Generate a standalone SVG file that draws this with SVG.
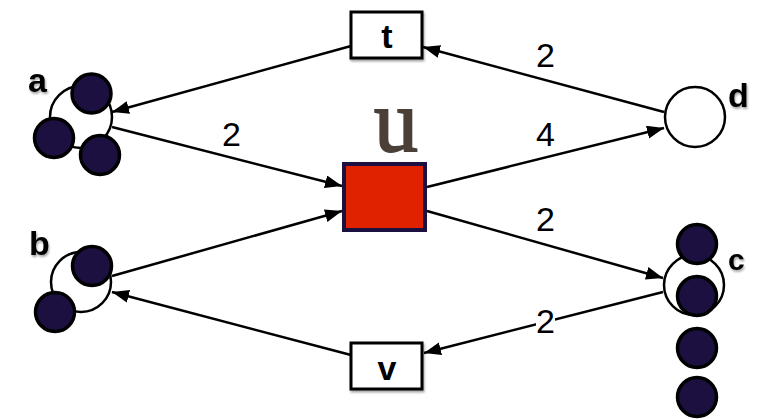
<svg xmlns="http://www.w3.org/2000/svg" width="766" height="419" viewBox="0 0 766 419">
  <style>
    .place { fill: #ffffff; stroke: #000000; stroke-width: 2.5; }
    .token { fill: #1b1040; stroke: #000000; stroke-width: 3.5; }
    .trans { fill: #ffffff; stroke: #000000; stroke-width: 3; }
    .arc { fill: none; stroke: #000000; stroke-width: 2.5; marker-end: url(#arrow); }
    .lbl { font-family: "Liberation Sans", Arial, sans-serif; font-weight: bold; font-size: 34px; fill: #000000; }
    .wbox { fill: #ffffff; }
    .wt { font-family: "Liberation Sans", Arial, sans-serif; font-size: 34px; fill: #000000; text-anchor: middle; }
  </style>
  <defs>
    <marker id="arrow" markerUnits="userSpaceOnUse" markerWidth="18" markerHeight="14" refX="17" refY="6.5" orient="auto">
      <path d="M0,0 L17,6.5 L0,13 z" fill="#000000"/>
    </marker>
    <filter id="sh" x="-20%" y="-20%" width="150%" height="150%">
      <feDropShadow dx="1" dy="2" stdDeviation="1.2" flood-color="#000000" flood-opacity="0.35"/>
    </filter>
  </defs>

  <g id="connectors">
    <g id="arc-t-a"><line class="arc" x1="351" y1="46" x2="112" y2="112"/></g>
    <g id="arc-d-t"><line class="arc" x1="664" y1="112" x2="423" y2="47"/></g>
    <g id="arc-a-u"><line class="arc" x1="112" y1="127" x2="342" y2="186"/></g>
    <g id="arc-u-d"><line class="arc" x1="427" y1="187" x2="664" y2="128"/></g>
    <g id="arc-b-u"><line class="arc" x1="112" y1="276" x2="342" y2="211"/></g>
    <g id="arc-u-c"><line class="arc" x1="427" y1="211" x2="663" y2="278"/></g>
    <g id="arc-c-v"><line class="arc" x1="663" y1="292" x2="424" y2="353"/></g>
    <g id="arc-v-b"><line class="arc" x1="351" y1="355" x2="112" y2="292"/></g>

    <rect class="wbox" x="536" y="33" width="19" height="37"/>
    <text class="wt" x="545.5" y="67">2</text>
    <rect class="wbox" x="222" y="112" width="19" height="40"/>
    <text class="wt" x="231.5" y="146">2</text>
    <rect class="wbox" x="536" y="112" width="19" height="40"/>
    <text class="wt" x="545.5" y="146">4</text>
    <rect class="wbox" x="536" y="197" width="19" height="40"/>
    <text class="wt" x="545.5" y="231">2</text>
    <rect class="wbox" x="536" y="300" width="19" height="38"/>
    <text class="wt" x="545.5" y="333">2</text>
  </g>

  <g id="place-a">
    <circle class="place" cx="81" cy="117" r="31"/>
    <circle class="token" cx="91.5" cy="93.5" r="19.5"/>
    <circle class="token" cx="54" cy="138" r="19.5"/>
    <circle class="token" cx="100" cy="155" r="19.5"/>
    <text class="lbl" x="28" y="92" filter="url(#sh)">a</text>
  </g>

  <g id="place-b">
    <circle class="place" cx="81" cy="282" r="30"/>
    <circle class="token" cx="92" cy="266" r="19.5"/>
    <circle class="token" cx="55" cy="312" r="19.5"/>
    <text class="lbl" x="29" y="255" filter="url(#sh)">b</text>
  </g>

  <g id="place-d">
    <circle class="place" cx="695" cy="117" r="30"/>
    <text class="lbl" x="728" y="107" filter="url(#sh)">d</text>
  </g>

  <g id="place-c">
    <circle class="place" cx="694" cy="285" r="30"/>
    <circle class="token" cx="697" cy="244" r="19.5"/>
    <circle class="token" cx="697" cy="296" r="19.5"/>
    <circle class="token" cx="697" cy="348" r="19.5"/>
    <circle class="token" cx="697" cy="397" r="19.5"/>
    <text class="lbl" x="728" y="270" style="font-size:30px" filter="url(#sh)">c</text>
  </g>

  <g id="trans-t">
    <rect class="trans" x="351" y="12" width="71" height="46" filter="url(#sh)"/>
    <text class="lbl" x="387" y="48" text-anchor="middle">t</text>
  </g>

  <g id="trans-u">
    <rect x="344" y="164" width="81" height="66" fill="#e02200" stroke="#1b1040" stroke-width="4"/>
    <text x="396" y="151" text-anchor="middle" font-family="Liberation Serif, 'Times New Roman', serif" font-size="88" fill="#4b4038" stroke="#4b4038" stroke-width="1.8">u</text>
  </g>

  <g id="trans-v">
    <rect class="trans" x="351" y="343" width="71" height="46" filter="url(#sh)"/>
    <text class="lbl" x="387" y="380" text-anchor="middle">v</text>
  </g>
</svg>
